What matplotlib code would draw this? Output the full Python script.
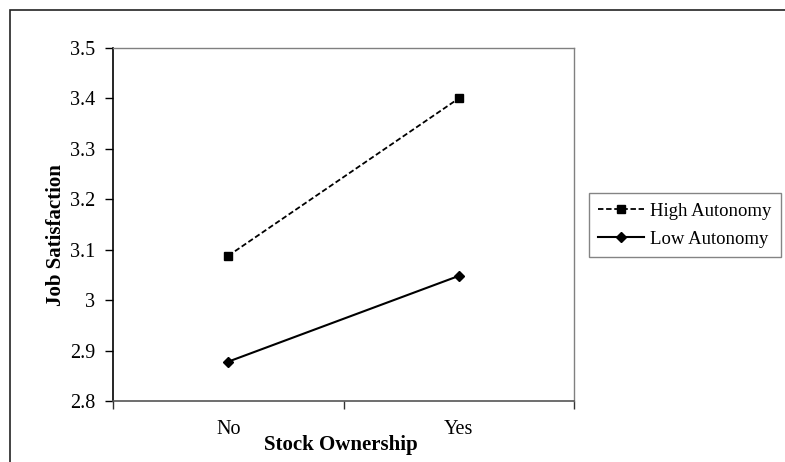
import matplotlib
matplotlib.use("Agg")
import matplotlib.pyplot as plt
from matplotlib.patches import Rectangle

categories = ["No", "Yes"]
high_autonomy = [3.088, 3.40]
low_autonomy = [2.878, 3.048]
series_names = ["High Autonomy", "Low Autonomy"]
y_ticks = [2.8, 2.9, 3.0, 3.1, 3.2, 3.3, 3.4, 3.5]
y_tick_labels = ["2.8", "2.9", "3", "3.1", "3.2", "3.3", "3.4", "3.5"]

plt.rcParams['font.family'] = ['Liberation Serif', 'DejaVu Serif']
FS_TICK = 14.5
FS_LABEL = 15
FS_LEG = 13.5

W, H = 785, 462
fig = plt.figure(figsize=(W / 100, H / 100), dpi=100)

# outer frame (only top-left visible, extends past the edges)
fig.patches.append(Rectangle((10 / W, -0.1), 1.2, 1 - 10 / H + 0.1,
                             transform=fig.transFigure, fill=False,
                             edgecolor='#222222', linewidth=1.2))

ax = fig.add_axes([113 / W, 1 - 401 / H, (574 - 113) / W, (401 - 48) / H])
x = [0.5, 1.5]
ax.plot(x, high_autonomy, linestyle=(0, (3, 1.5)), color='black', linewidth=1.3,
        marker='s', markersize=6.2, label=series_names[0])
ax.plot(x, low_autonomy, linestyle='-', color='black', linewidth=1.5,
        marker='D', markersize=5, label=series_names[1])

ax.set_xlim(0, 2)
ax.set_ylim(2.8, 3.5)
ax.set_yticks(y_ticks)
ax.set_yticklabels(y_tick_labels, fontsize=FS_TICK)
ax.set_xticks([0, 1, 2])
ax.set_xticklabels([])
ax.set_xticks(x, minor=True)
ax.set_xticklabels(categories, minor=True, fontsize=FS_TICK)
ax.tick_params(axis='x', which='minor', length=0, pad=14)
ax.tick_params(axis='x', which='major', length=6, width=1, color='#333333', direction='out')
ax.tick_params(axis='y', length=6, width=1, color='black', direction='out', pad=7)

for s in ['top', 'right']:
    ax.spines[s].set_color('#808080')
    ax.spines[s].set_linewidth(1.0)
ax.spines['bottom'].set_color('#555555')
ax.spines['bottom'].set_linewidth(1.2)
ax.spines['left'].set_color('black')
ax.spines['left'].set_linewidth(1.2)

ax.set_xlabel("Stock Ownership", fontsize=FS_LABEL, fontweight='bold')
ax.set_ylabel("Job Satisfaction", fontsize=FS_LABEL, fontweight='bold')
ax.xaxis.set_label_coords(0.495, -0.097)
ax.yaxis.set_label_coords(-0.102, 0.47)

leg = ax.legend(loc='upper left', bbox_to_anchor=(589 / W, 1 - 193 / H),
                bbox_transform=fig.transFigure,
                fontsize=FS_LEG, frameon=True, fancybox=False, edgecolor='#666666',
                handlelength=2.45, handletextpad=0.3, borderpad=0.5, labelspacing=0.58,
                borderaxespad=0)
leg.get_frame().set_linewidth(1.0)

fig.savefig("out.png", dpi=100)
